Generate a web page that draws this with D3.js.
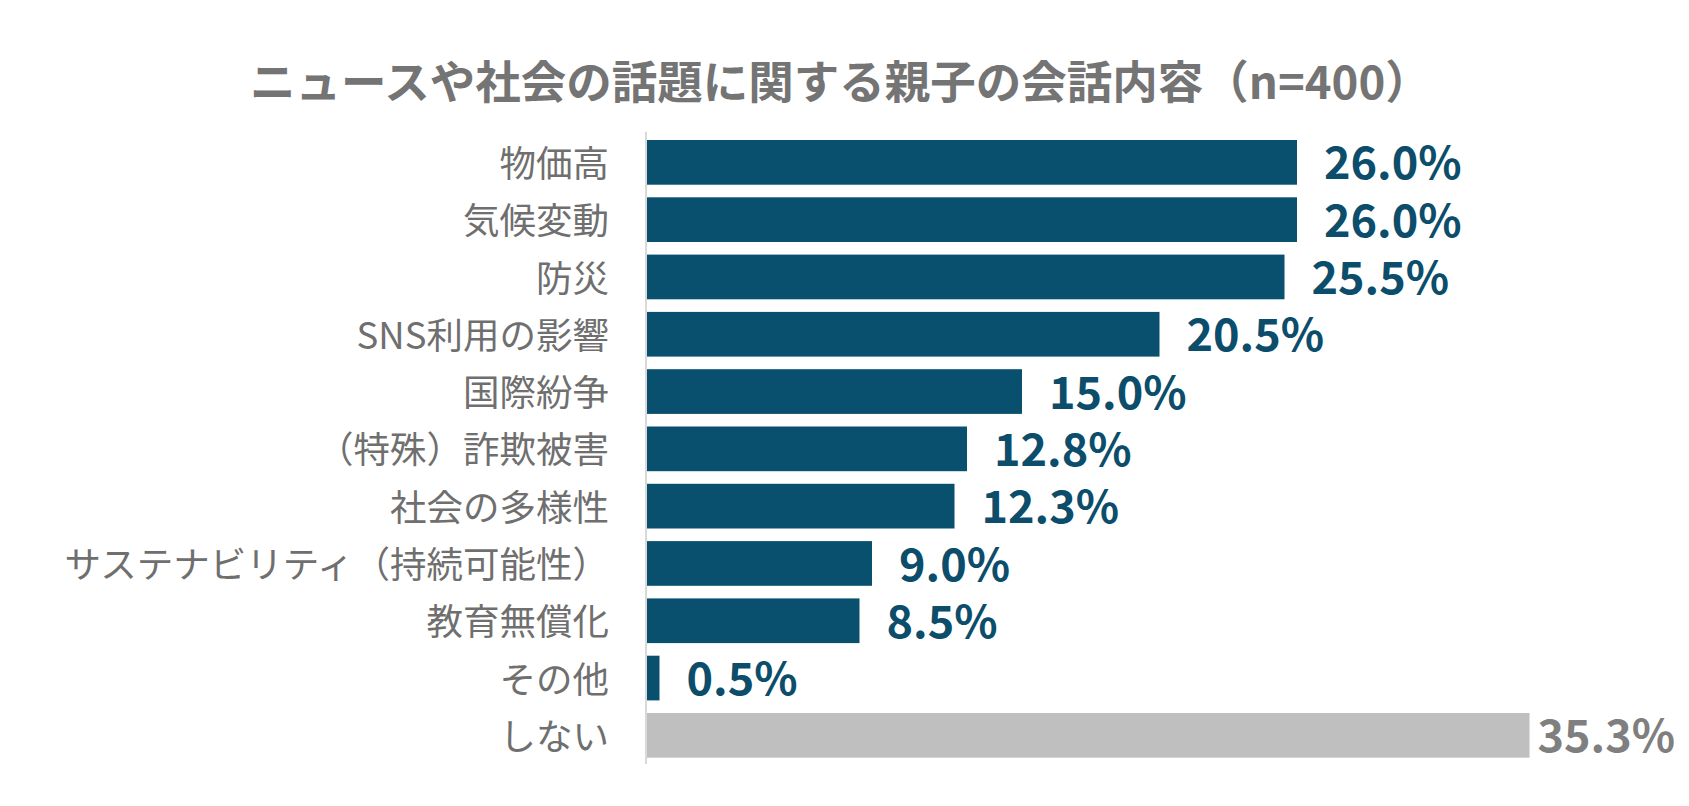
<!DOCTYPE html>
<html><head><meta charset="utf-8">
<script src="https://cdn.jsdelivr.net/npm/d3@7/dist/d3.min.js"></script>
<style>
html,body{margin:0;padding:0;background:#fff;}
svg{display:block;}
text{font-family:"Noto Sans CJK JP","Noto Sans",sans-serif;}
</style></head>
<body>
<script>
const title = "ニュースや社会の話題に関する親子の会話内容（n=400）";
const categories = ["物価高","気候変動","防災","SNS利用の影響","国際紛争","（特殊）詐欺被害","社会の多様性","サステナビリティ（持続可能性）","教育無償化","その他","しない"];
const values = [26.0,26.0,25.5,20.5,15.0,12.8,12.3,9.0,8.5,0.5,35.3];
const valueLabels = ["26.0%","26.0%","25.5%","20.5%","15.0%","12.8%","12.3%","9.0%","8.5%","0.5%","35.3%"];
const greyCategories = ["しない"];

const W = 1689, H = 806;
const svg = d3.select("body").append("svg").attr("width", W).attr("height", H);

const x = d3.scaleLinear().domain([0, 40]).range([647, 1647]);
const y = d3.scaleBand().domain(categories).range([133.7, 764]).paddingInner(0.22).paddingOuter(0.11);

const data = categories.map((c, i) => ({c, v: values[i], lab: valueLabels[i], grey: greyCategories.includes(c)}));

svg.append("text")
  .attr("x", 250).attr("y", 99)
  .attr("font-size", 45.5).attr("font-weight", 700).attr("fill", "#747474")
  .text(title);

svg.selectAll("rect.bar").data(data).join("rect")
  .attr("class", "bar")
  .attr("x", x(0))
  .attr("y", d => y(d.c))
  .attr("width", d => x(d.v) - x(0))
  .attr("height", y.bandwidth())
  .attr("fill", d => d.grey ? "#bfbfbf" : "#08506e");

// axis line
const axis = d3.axisLeft(y).tickSize(0).tickPadding(37);
const gAxis = svg.append("g").attr("transform", `translate(${x(0) - 1},0)`).call(axis);
gAxis.select(".domain").attr("stroke", "#d9d9d9").attr("stroke-width", 2)
  .attr("d", `M0,${y.range()[0] - 2}V${y.range()[1]}`);
gAxis.selectAll(".tick text")
  .attr("font-size", 36.5).attr("fill", "#6f6f6f")
  .attr("font-family", '"Noto Sans CJK JP","Noto Sans",sans-serif')
  .attr("dy", "0.4em");

svg.selectAll("text.val").data(data).join("text")
  .attr("class", "val")
  .attr("x", d => x(d.v) + (d.grey ? 8 : 27))
  .attr("y", d => y(d.c) + y.bandwidth() / 2)
  .attr("dy", "0.38em")
  .attr("font-size", 45).attr("font-weight", 700)
  .attr("fill", d => d.grey ? "#7f7f7f" : "#0b4d6a")
  .text(d => d.lab);
</script>
</body></html>
